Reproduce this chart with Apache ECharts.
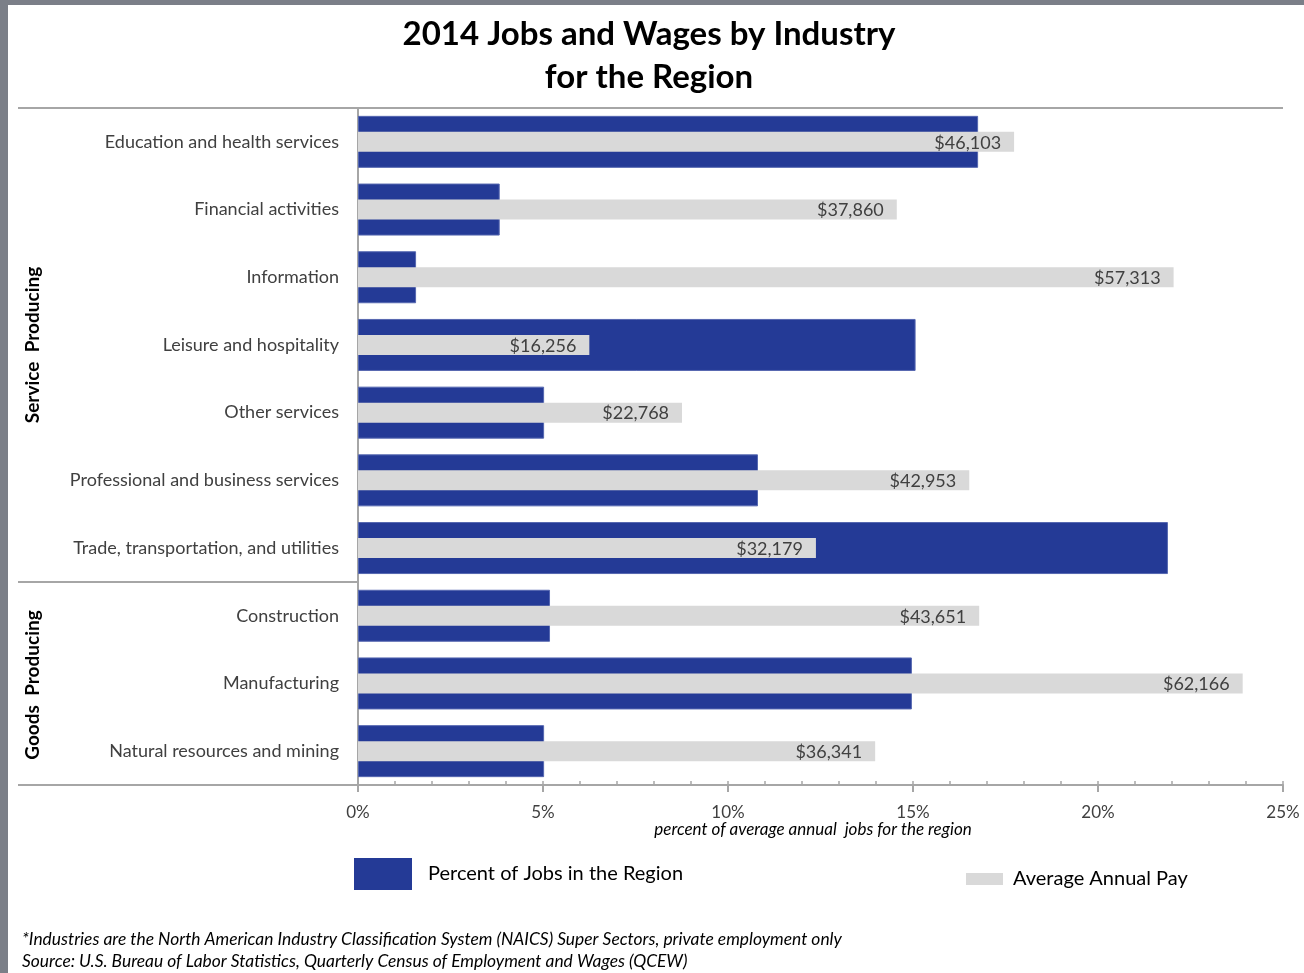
<!DOCTYPE html>
<html>
<head>
<meta charset="utf-8">
<title>2014 Jobs and Wages by Industry for the Region</title>
<script src="https://cdn.jsdelivr.net/npm/echarts@6/dist/echarts.min.js"></script>
<style>
  html, body { margin: 0; padding: 0; background: #fff; }
  #chart { width: 1304px; height: 973px; }
</style>
</head>
<body>
<div id="chart"></div>
<script>
// Industry super sectors, top to bottom
const categories = [
  'Education and health services',
  'Financial activities',
  'Information',
  'Leisure and hospitality',
  'Other services',
  'Professional and business services',
  'Trade, transportation, and utilities',
  'Construction',
  'Manufacturing',
  'Natural resources and mining'
];
// Share of average annual jobs in the region (%)
const jobsPct = [16.76, 3.83, 1.57, 15.07, 5.03, 10.81, 21.89, 5.19, 14.97, 5.03];
// Average annual pay (USD)
const avgPay = [46103, 37860, 57313, 16256, 22768, 42953, 32179, 43651, 62166, 36341];
// Percent axis ticks
const pctTicks = [0, 5, 10, 15, 20, 25];

const FONT = 'Lato, "Open Sans", sans-serif';
const TXT = '#404040';
const LINE = '#a6a6a6';
const BLUE = '#243a96';
const GRAY = '#d9d9d9';

const chart = echarts.init(document.getElementById('chart'), null, { renderer: 'canvas' });

const fmtPay = v => '$' + v.toLocaleString('en-US');

const option = {
  backgroundColor: '#ffffff',
  animation: false,
  textStyle: { fontFamily: FONT },
  title: {
    text: '2014 Jobs and Wages by Industry\nfor the Region',
    left: 644,
    textAlign: 'center',
    top: 8,
    textStyle: { fontFamily: FONT, fontWeight: 'bold', fontSize: 33, lineHeight: 43, color: '#000' }
  },
  grid: { left: 358, right: 21, top: 108, bottom: 188, containLabel: false },
  xAxis: [
    {
      // visible percent axis with labelled major ticks
      type: 'value', gridIndex: 0, position: 'bottom',
      min: pctTicks[0], max: pctTicks[pctTicks.length - 1], interval: pctTicks[1] - pctTicks[0],
      axisLine: { show: true, lineStyle: { color: LINE, width: 2 } },
      axisTick: { show: true, length: 7, lineStyle: { color: LINE, width: 2 } },
      axisLabel: { show: true, margin: 19, color: TXT, fontSize: 17, fontFamily: FONT,
                   formatter: v => v + '%' },
      splitLine: { show: false }
    },
    {
      // hidden pay scale for the grey bars
      type: 'value', gridIndex: 0, position: 'top',
      min: 0, max: 65000,
      show: false
    },
    {
      // minor ticks every 1%, drawn inside the plot
      type: 'value', gridIndex: 0, position: 'bottom',
      min: 0, max: 25, interval: 1,
      axisLine: { show: false },
      axisTick: { show: true, inside: true, length: 4, lineStyle: { color: LINE, width: 1.5 } },
      axisLabel: { show: false },
      splitLine: { show: false }
    }
  ],
  yAxis: [
    {
      type: 'category', gridIndex: 0, inverse: true, data: categories,
      axisLine: { show: true, lineStyle: { color: LINE, width: 2 } },
      axisTick: { show: false },
      axisLabel: { color: TXT, fontSize: 18, fontFamily: FONT, margin: 19 }
    },
    {
      type: 'category', gridIndex: 0, inverse: true, data: categories,
      show: false
    }
  ],
  series: [
    {
      name: 'Percent of Jobs in the Region',
      type: 'bar', xAxisIndex: 0, yAxisIndex: 0,
      data: jobsPct, barWidth: 52,
      itemStyle: { color: BLUE, borderColor: '#5567b0', borderWidth: 1 },
      z: 2
    },
    {
      name: 'Average Annual Pay',
      type: 'bar', xAxisIndex: 1, yAxisIndex: 1,
      data: avgPay, barWidth: 20,
      itemStyle: { color: GRAY },
      label: {
        show: true, position: 'insideRight', distance: 13, offset: [0, 1],
        color: TXT, fontSize: 18, fontFamily: FONT,
        formatter: p => fmtPay(p.value)
      },
      z: 3
    }
  ],
  graphic: [
    // page frame strips
    { type: 'rect', shape: { x: 0, y: 0, width: 1304, height: 5 }, style: { fill: '#7b7f88' }, silent: true },
    { type: 'rect', shape: { x: 0, y: 0, width: 8, height: 973 }, style: { fill: '#7b7f88' }, silent: true },
    // top rule and extended bottom rule
    { type: 'line', shape: { x1: 18, y1: 108, x2: 1283, y2: 108 }, style: { stroke: LINE, lineWidth: 2 }, silent: true },
    { type: 'line', shape: { x1: 18, y1: 785, x2: 358, y2: 785 }, style: { stroke: LINE, lineWidth: 2 }, silent: true },
    // divider between service and goods producing groups
    { type: 'line', shape: { x1: 18, y1: 582, x2: 358, y2: 582 }, style: { stroke: LINE, lineWidth: 2 }, silent: true },
    // group labels
    { type: 'text', x: 33, y: 345, rotation: Math.PI / 2,
      style: { text: 'Service  Producing', fontFamily: FONT, fontWeight: 'bold', fontSize: 19, fill: '#000',
               align: 'center', verticalAlign: 'middle' } },
    { type: 'text', x: 33, y: 685, rotation: Math.PI / 2,
      style: { text: 'Goods  Producing', fontFamily: FONT, fontWeight: 'bold', fontSize: 19, fill: '#000',
               align: 'center', verticalAlign: 'middle' } },
    // axis title
    { type: 'text', x: 813, y: 830,
      style: { text: 'percent of average annual  jobs for the region', fontFamily: FONT, fontStyle: 'italic',
               fontSize: 17, fill: '#000', align: 'center', verticalAlign: 'middle' } },
    // legend
    { type: 'rect', shape: { x: 354, y: 858, width: 58, height: 32 }, style: { fill: BLUE } },
    { type: 'text', x: 428, y: 874,
      style: { text: 'Percent of Jobs in the Region', fontFamily: FONT, fontSize: 20, fill: '#000',
               align: 'left', verticalAlign: 'middle' } },
    { type: 'rect', shape: { x: 966, y: 873, width: 37, height: 12 }, style: { fill: GRAY } },
    { type: 'text', x: 1013, y: 879,
      style: { text: 'Average Annual Pay', fontFamily: FONT, fontSize: 20, fill: '#000',
               align: 'left', verticalAlign: 'middle' } },
    // notes
    { type: 'text', x: 22, y: 939,
      style: { text: '*Industries are the North American Industry Classification System (NAICS) Super Sectors, private employment only',
               fontFamily: FONT, fontStyle: 'italic', fontSize: 17.4, fill: '#000', align: 'left', verticalAlign: 'middle' } },
    { type: 'text', x: 22, y: 961,
      style: { text: 'Source: U.S. Bureau of Labor Statistics, Quarterly Census of Employment and Wages (QCEW)',
               fontFamily: FONT, fontStyle: 'italic', fontSize: 17.4, fill: '#000', align: 'left', verticalAlign: 'middle' } }
  ]
};

chart.setOption(option);
</script>
</body>
</html>
